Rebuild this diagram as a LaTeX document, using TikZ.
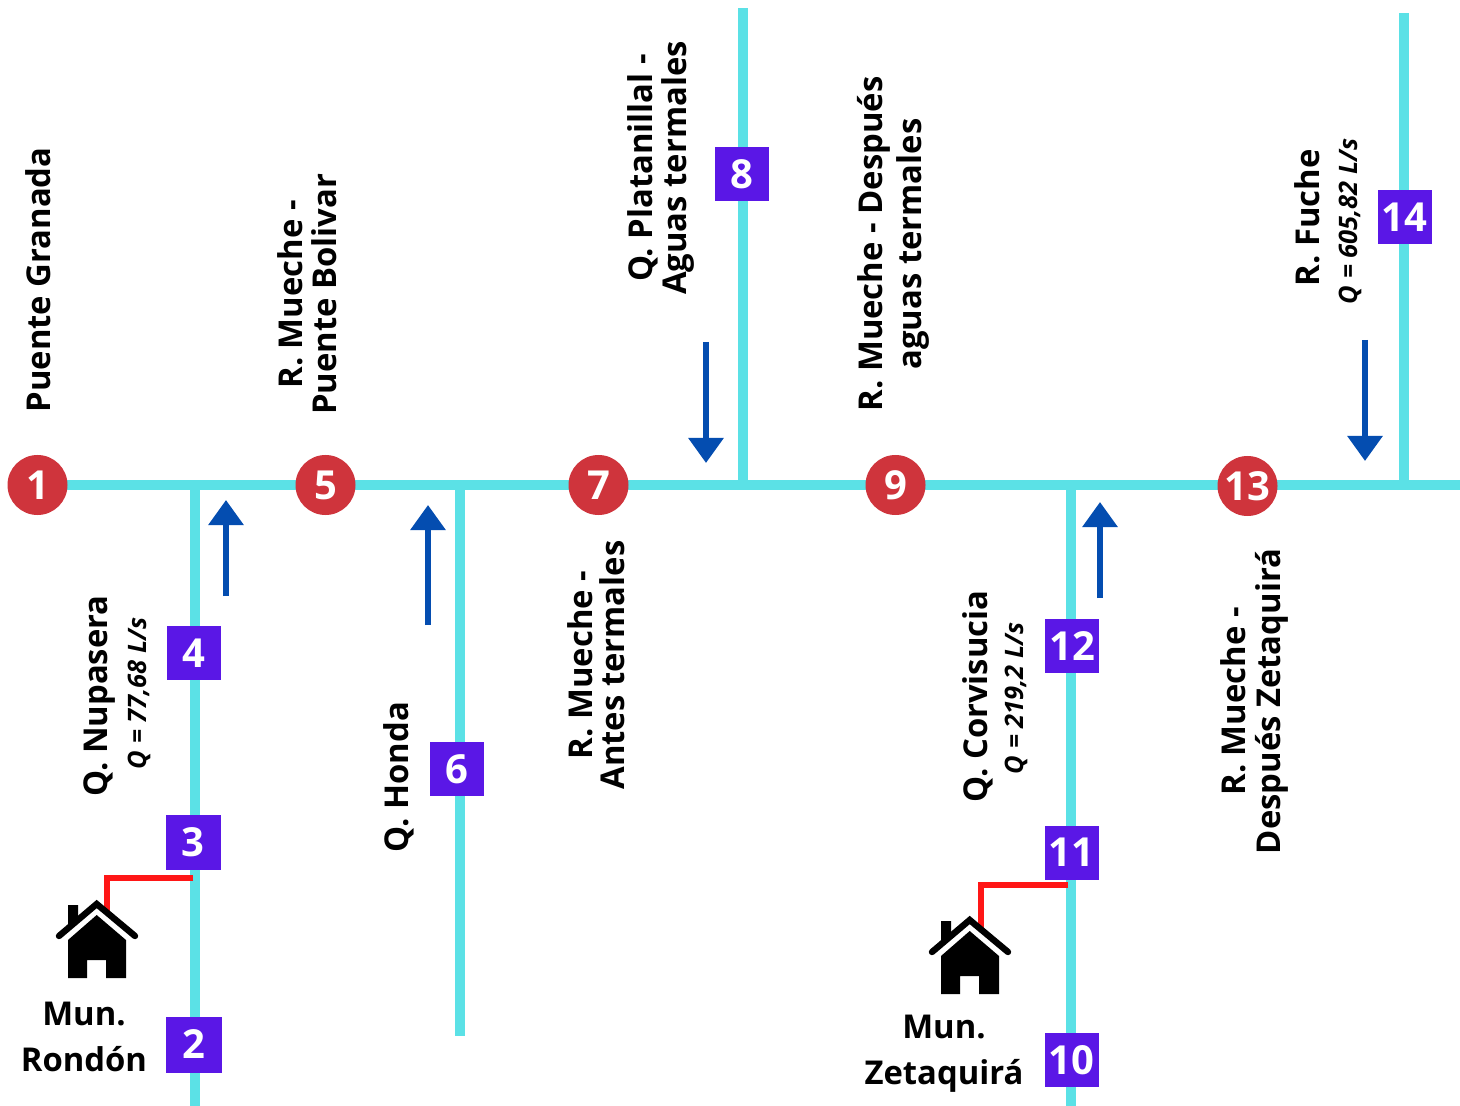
\documentclass[tikz,border=0pt]{standalone}
\usepackage{fontspec}
\setmainfont{Open Sans}
\usetikzlibrary{arrows.meta}
\definecolor{river}{HTML}{5BE1E6}
\definecolor{sq}{HTML}{5A17E6}
\definecolor{circ}{HTML}{CF343C}
\definecolor{flow}{HTML}{044DB0}
\definecolor{pipe}{HTML}{FF1616}
\tikzset{
 x=0.5pt,y=-0.5pt,
 riverline/.style={draw=river,line width=5pt},
 pipeline/.style={draw=pipe,line width=3.2pt},
 flowarrow/.style={draw=flow,line width=3pt,-{Triangle[length=12.5pt,width=17pt]}},
 sqnode/.style={fill=sq,text=white,minimum size=27pt,inner sep=0pt,font=\fontsize{20}{20}\selectfont\bfseries},
 circnode/.style={circle,fill=circ,text=white,minimum size=30pt,inner sep=0pt,font=\fontsize{20}{20}\selectfont\bfseries},
 lab/.style={rotate=90,align=center,inner sep=0pt,font=\fontsize{16.4}{18}\selectfont\bfseries},
 qlab/.style={rotate=90,inner sep=0pt,font=\fontsize{12.7}{14}\selectfont\itshape\bfseries},
 hlab/.style={align=center,inner sep=0pt,font=\fontsize{16.4}{23}\selectfont\bfseries},
}
\newcommand{\casa}[2]{%
 \begin{scope}[shift={(#1,#2)}]
  \fill (68,905) -- (78,905) -- (78,917) -- (68,927) -- cycle;
  \draw[line width=3.2pt,line cap=round,line join=miter] (59,936) -- (96.7,904) -- (135,936);
  \fill (96.7,915) -- (126,940) -- (126,978) -- (106,978) -- (106,960) -- (87,960) -- (87,978) -- (68,978) -- (68,940) -- cycle;
 \end{scope}}
\begin{document}
\begin{tikzpicture}
\useasboundingbox (0,0) rectangle (1460,1106);
\fill[white] (0,0) rectangle (1460,1106);
% junctions and free ends
\coordinate (j4) at (195,485);
\coordinate (j6) at (460,485);
\coordinate (j8) at (743,485);
\coordinate (j12) at (1071,485);
\coordinate (j14) at (1404,485);
\coordinate (e1) at (1460,485);
\coordinate (e2) at (195,1106);
\coordinate (e6) at (460,1036);
\coordinate (e8) at (743,8);
\coordinate (e10) at (1071,1106);
\coordinate (e14) at (1404,13);
\coordinate (s1) at (37,485);
% rivers
\draw[riverline] (s1) -- (e1);
\draw[riverline] (j4) -- (e2);
\draw[riverline] (j6) -- (e6);
\draw[riverline] (j8) -- (e8);
\draw[riverline] (j12) -- (e10);
\draw[riverline] (j14) -- (e14);
% pipes
\coordinate (p1) at (193,878);
\coordinate (h1) at (107,912);
\coordinate (p2) at (1068,885);
\coordinate (h2) at (981,928);
\draw[pipeline] (p1) -| (h1);
\draw[pipeline] (p2) -| (h2);
% houses
\casa{0}{0}
\casa{873}{16}
% stations
\node[circnode] (n1) at (37.5,485) {1};
\node[circnode] (n5) at (325.5,485) {5};
\node[circnode] (n7) at (598.5,485) {7};
\node[circnode] (n9) at (895.5,485) {9};
\node[circnode] (n13) at (1247.5,486) {13};
\node[sqnode,minimum size=28pt] (n2) at (194,1044.5) {2};
\node[sqnode,minimum size=27.5pt] (n3) at (193,842) {3};
\node[sqnode] (n4) at (193.5,653) {4};
\node[sqnode] (n6) at (457,769) {6};
\node[sqnode] (n8) at (742,174) {8};
\node[sqnode] (n10) at (1071.5,1060) {10};
\node[sqnode] (n11) at (1071.5,852.5) {11};
\node[sqnode] (n12) at (1072,646) {12};
\node[sqnode] (n14) at (1404.5,217) {14};
% flow arrows
\coordinate (a1) at (226,596); \coordinate (b1) at (226,500);
\coordinate (a2) at (428,625); \coordinate (b2) at (428,505);
\coordinate (a3) at (706,342); \coordinate (b3) at (706,463);
\coordinate (a4) at (1100,598); \coordinate (b4) at (1100,502);
\coordinate (a5) at (1365,340); \coordinate (b5) at (1365,461);
\draw[flowarrow] (a1) -- (b1);
\draw[flowarrow] (a2) -- (b2);
\draw[flowarrow] (a3) -- (b3);
\draw[flowarrow] (a4) -- (b4);
\draw[flowarrow] (a5) -- (b5);
% labels
\node[lab] (t1) at (38,280) {Puente Granada};
\node[lab] (t5) at (307,294.5) {R. Mueche -\\[-0.8pt]Puente Bolivar};
\node[lab] (t7) at (596,665) {R. Mueche -\\[-2pt]Antes termales};
\node[lab] (t8) at (661,168) {Q. Platanillal -\\[-1pt]Aguas termales};
\node[lab] (t9) at (893.5,244) {R. Mueche - Después\\[1.5pt]aguas termales};
\node[lab] (t13) at (1254,701.5) {R. Mueche -\\[-0.5pt]Después Zetaquirá};
\node[lab] (t14) at (1307,218) {R. Fuche};
\node[qlab] (q14) at (1350,221.5) {Q = 605,82 L/s};
\node[lab] (t4) at (100,696) {Q. Nupasera};
\node[qlab] (q4) at (139,693.5) {Q = 77,68 L/s};
\node[lab] (t6) at (399,777) {Q. Honda};
\node[lab] (t12) at (978,696.5) {Q. Corvisucia};
\node[qlab] (q12) at (1016,698.5) {Q = 219,2 L/s};
\node[hlab] (m1) at (84,1037) {Mun.\\Rondón};
\node[hlab] (m2) at (944,1054) {Mun.\\Zetaquirá};
\end{tikzpicture}
\end{document}
